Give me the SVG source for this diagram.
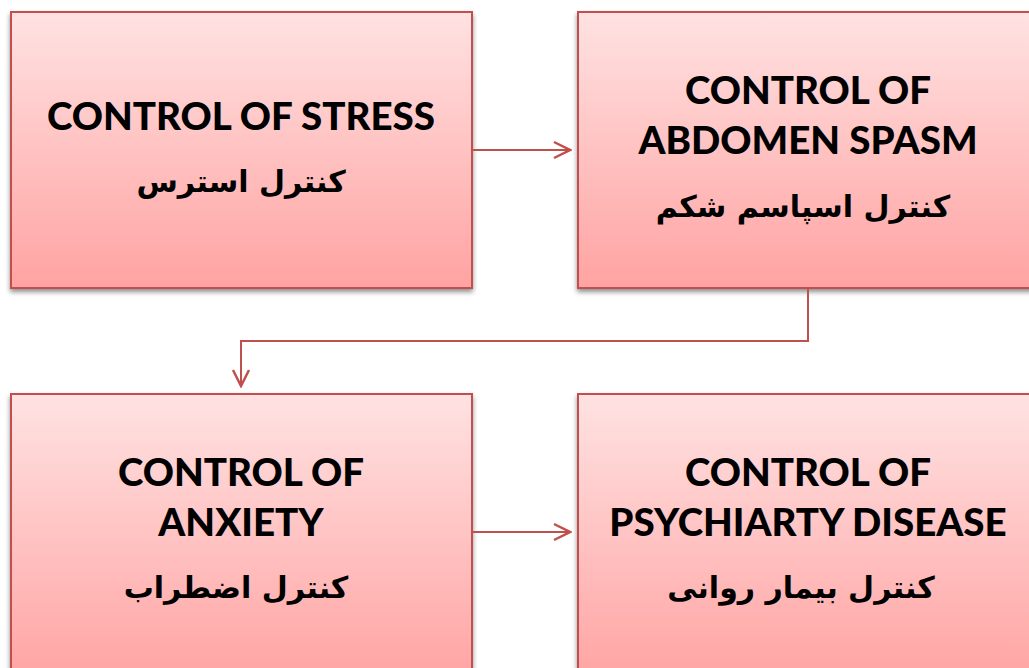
<svg xmlns="http://www.w3.org/2000/svg" width="1029" height="668" viewBox="0 0 1029 668">
<defs>
<linearGradient id="g" x1="0" y1="0" x2="0" y2="1">
<stop offset="0" stop-color="#ffe2e2"/>
<stop offset="1" stop-color="#ffa3a2"/>
</linearGradient>
<filter id="sh" x="-5%" y="-5%" width="110%" height="115%">
<feGaussianBlur in="SourceAlpha" stdDeviation="2.5"/>
<feOffset dx="0" dy="3" result="b"/>
<feComponentTransfer><feFuncA type="linear" slope="0.45"/></feComponentTransfer>
<feMerge><feMergeNode/><feMergeNode in="SourceGraphic"/></feMerge>
</filter>
<marker id="ah" viewBox="0 0 20 20" refX="18" refY="10" markerWidth="20" markerHeight="20" markerUnits="userSpaceOnUse" orient="auto">
<path d="M2,2 L18,10 L2,18" fill="none" stroke="#c0504d" stroke-width="2.5"/>
</marker>
</defs>
<style>
.box{fill:url(#g);stroke:#c0504d;stroke-width:2;filter:url(#sh)}
.en{font-family:Lato,"Open Sans",sans-serif;font-weight:900;font-size:38.5px;fill:#000;text-anchor:middle}
.ar{font-family:"DejaVu Sans","Noto Sans",sans-serif;font-weight:bold;font-size:30px;fill:#000;text-anchor:middle}
.c{fill:none;stroke:#c0504d;stroke-width:2}
</style>
<rect width="1029" height="668" fill="#fff"/>
<g id="node-stress">
<rect class="box" x="11" y="12" width="461" height="276"/>
<text class="en" x="241" y="130">CONTROL OF STRESS</text>
<text class="ar" x="241" y="192" direction="rtl">کنترل استرس</text>
</g>
<g id="node-abdomen">
<rect class="box" x="578" y="12" width="461" height="276"/>
<text class="en" x="808" y="104">CONTROL OF</text>
<text class="en" x="808" y="154">ABDOMEN SPASM</text>
<text class="ar" x="803" y="217" direction="rtl">کنترل اسپاسم شکم</text>
</g>
<g id="node-anxiety">
<rect class="box" x="11" y="394" width="461" height="290"/>
<text class="en" x="241" y="486">CONTROL OF</text>
<text class="en" x="241" y="536">ANXIETY</text>
<text class="ar" x="236" y="598" direction="rtl">کنترل اضطراب</text>
</g>
<g id="node-psychiatry">
<rect class="box" x="578" y="394" width="461" height="290"/>
<text class="en" x="808" y="486">CONTROL OF</text>
<text class="en" x="808" y="536">PSYCHIARTY DISEASE</text>
<text class="ar" x="801" y="598" direction="rtl">کنترل بیمار روانی</text>
</g>
<g id="connectors">
<path class="c" d="M472,150 L570,150" marker-end="url(#ah)"/>
<path class="c" d="M808,288 L808,341 L241,341 L241,386" marker-end="url(#ah)"/>
<path class="c" d="M472,532 L570,532" marker-end="url(#ah)"/>
</g>
</svg>
